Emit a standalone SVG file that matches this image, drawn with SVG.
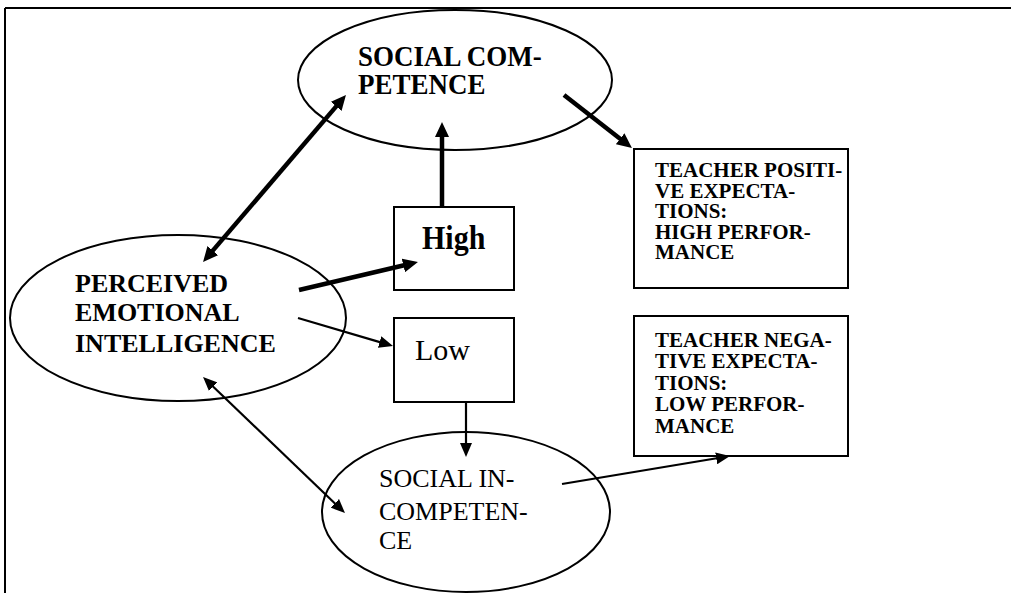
<svg xmlns="http://www.w3.org/2000/svg" width="1011" height="593" viewBox="0 0 1011 593">
<style>
.shape{fill:#fff;stroke:#000;stroke-width:2}
.b{font-family:"Liberation Serif","Times New Roman",serif;font-weight:bold;fill:#000}
.r{font-family:"Liberation Serif","Times New Roman",serif;fill:#000}
.thick{stroke:#000;stroke-width:4.5;fill:none}
.thin{stroke:#000;stroke-width:2.2;fill:none}
</style>
<defs>
<marker id="big" markerUnits="userSpaceOnUse" markerWidth="16" markerHeight="14" refX="2" refY="7" orient="auto-start-reverse"><path d="M0,0 L15,7 L0,14 z" fill="#000"/></marker>
<marker id="small" markerUnits="userSpaceOnUse" markerWidth="15" markerHeight="12" refX="2" refY="6" orient="auto-start-reverse"><path d="M0,0 L14,6 L0,12 z" fill="#000"/></marker>
</defs>
<rect width="1011" height="593" fill="#fff"/>
<g id="frame">
<line x1="5" y1="8" x2="1011" y2="8" stroke="#000" stroke-width="2"/>
<line x1="5" y1="8" x2="5" y2="593" stroke="#000" stroke-width="2"/>
</g>
<g id="social-competence">
<ellipse class="shape" cx="455" cy="80" rx="157" ry="70"/>
<text class="b" font-size="27" transform="translate(358,66) scale(1,1.12)"><tspan x="0" y="0">SOCIAL COM-</tspan><tspan x="0" y="25">PETENCE</tspan></text>
</g>
<g id="pei">
<ellipse class="shape" cx="178" cy="318" rx="168" ry="83"/>
<text class="b" font-size="26"><tspan x="75" y="292">PERCEIVED</tspan><tspan x="75" y="321">EMOTIONAL</tspan><tspan x="75" y="352">INTELLIGENCE</tspan></text>
</g>
<g id="high">
<rect class="shape" x="394" y="207" width="120" height="83"/>
<text class="b" font-size="30" transform="translate(422,249) scale(1,1.14)" x="0" y="0">High</text>
</g>
<g id="low">
<rect class="shape" x="394" y="318" width="120" height="84"/>
<text class="r" font-size="30" x="415" y="360">Low</text>
</g>
<g id="social-incompetence">
<ellipse class="shape" cx="466" cy="512" rx="144" ry="80"/>
<text class="r" font-size="26"><tspan x="379" y="487">SOCIAL IN-</tspan><tspan x="379" y="520">COMPETEN-</tspan><tspan x="379" y="549">CE</tspan></text>
</g>
<g id="teacher-positive">
<rect class="shape" x="634" y="149" width="214" height="139"/>
<text class="b" font-size="21"><tspan x="655" y="177">TEACHER POSITI-</tspan><tspan x="655" y="197.5">VE EXPECTA-</tspan><tspan x="655" y="218">TIONS:</tspan><tspan x="655" y="238.5">HIGH PERFOR-</tspan><tspan x="655" y="259">MANCE</tspan></text>
</g>
<g id="teacher-negative">
<rect class="shape" x="634" y="316" width="214" height="140"/>
<text class="b" font-size="21"><tspan x="655" y="346.5">TEACHER NEGA-</tspan><tspan x="655" y="368">TIVE EXPECTA-</tspan><tspan x="655" y="389.5">TIONS:</tspan><tspan x="655" y="411">LOW PERFOR-</tspan><tspan x="655" y="433">MANCE</tspan></text>
</g>
<g id="connectors">
<line class="thick" x1="211.5" y1="252.1" x2="337.5" y2="104.9" marker-start="url(#big)" marker-end="url(#big)"/>
<line class="thick" x1="442" y1="207" x2="442" y2="135" marker-end="url(#big)"/>
<line class="thick" x1="564" y1="95" x2="621.7" y2="140" marker-end="url(#big)"/>
<line class="thick" x1="299" y1="290" x2="405.3" y2="265" marker-end="url(#big)"/>
<line class="thin" x1="298" y1="318" x2="381.5" y2="342.6" marker-end="url(#small)"/>
<line class="thin" x1="466" y1="402" x2="466" y2="445" marker-end="url(#small)"/>
<line class="thin" x1="211.7" y1="385.3" x2="336.3" y2="504.7" marker-start="url(#small)" marker-end="url(#small)"/>
<line class="thin" x1="562" y1="484" x2="718.2" y2="458" marker-end="url(#small)"/>
</g>
</svg>
